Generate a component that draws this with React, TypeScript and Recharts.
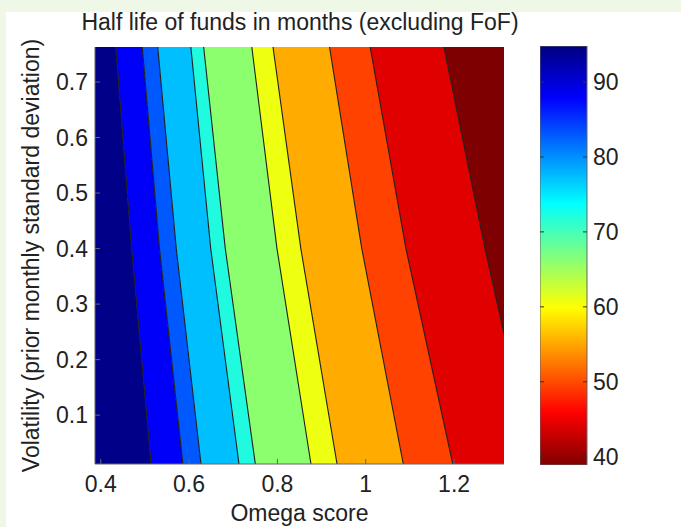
import React from 'react';
import { ComposedChart, Area, Line, XAxis, YAxis, BarChart, Bar } from 'recharts';

const volatility = [0.763, 0.4, 0.012];

// omega score of each contour line at those volatility levels (left to right)
const contour1 = [0.434, 0.47, 0.514];
const contour2 = [0.494, 0.533, 0.586];
const contour3 = [0.529, 0.571, 0.627];
const contour4 = [0.604, 0.649, 0.713];
const contour5 = [0.633, 0.682, 0.75];
const contour6 = [0.742, 0.799, 0.876];
const contour7 = [0.79, 0.853, 0.935];
const contour8 = [0.918, 0.991, 1.085];
const contour9 = [1.01, 1.091, 1.197];
const contour10 = [1.177, 1.27, 1.379];

const bandColors = [
  '#000088', '#0000f8', '#0058ff', '#00bfff', '#20fbdf', '#8cff6e',
  '#eeff12', '#ffab00', '#ff4200', '#e00000', '#7f0000',
];

const omegaDomain = [0.387, 1.313];
const volDomain = [0.012, 0.763];
const omegaTicks = [0.4, 0.6, 0.8, 1, 1.2];
const volTicks = [0.1, 0.2, 0.3, 0.4, 0.5, 0.6, 0.7];

const levelDomain = [38.9, 94.8];
const levelTicks = [40, 50, 60, 70, 80, 90];

const contours = [contour1, contour2, contour3, contour4, contour5, contour6, contour7, contour8, contour9, contour10];

const rows = volatility.map((vol, i) => {
  const edges = [omegaDomain[0], ...contours.map((c) => c[i]), omegaDomain[1]];
  const row: Record<string, any> = { vol };
  contours.forEach((c, k) => {
    row['c' + k] = c[i];
  });
  bandColors.forEach((_, k) => {
    row['band' + k] = [edges[k], edges[k + 1]];
  });
  return row;
});

const colorbarData = [{ name: 'half life', range: levelDomain }];

// jet colormap, bottom (low) to top (high)
const jetStops = [
  { offset: '0%', color: '#800000' },
  { offset: '12.5%', color: '#ff0000' },
  { offset: '37.5%', color: '#ffff00' },
  { offset: '62.5%', color: '#00ffff' },
  { offset: '87.5%', color: '#0000ff' },
  { offset: '100%', color: '#000080' },
];

const FONT = '"Liberation Sans", Arial, Helvetica, sans-serif';
const TEXT = '#222';
const FRAME = '#666';
const SIZE = 23;
const fmt = (v: number) => String(v);

const BottomTick = ({ x, y, payload }: any) => (
  <g>
    <line x1={x} x2={x} y1={y} y2={y - 5} stroke={FRAME} />
    <text x={x} y={y + 28} textAnchor="middle" fill={TEXT} fontSize={SIZE} fontFamily={FONT}>
      {fmt(payload.value)}
    </text>
  </g>
);

const TopTick = ({ x, y }: any) => <line x1={x} x2={x} y1={y} y2={y + 5} stroke={FRAME} />;

const LeftTick = ({ x, y, payload }: any) => (
  <g>
    <line x1={x} x2={x + 5} y1={y} y2={y} stroke={FRAME} />
    <text x={x - 7} y={y} dy="0.36em" textAnchor="end" fill={TEXT} fontSize={SIZE} fontFamily={FONT}>
      {fmt(payload.value)}
    </text>
  </g>
);

const RightTick = ({ x, y }: any) => <line x1={x} x2={x - 5} y1={y} y2={y} stroke={FRAME} />;

const ColorbarTick = ({ x, y, payload }: any) => (
  <g>
    <line x1={x} x2={x - 4} y1={y} y2={y} stroke="#333" />
    <line x1={x - 47} x2={x - 43} y1={y} y2={y} stroke="#333" />
    <text x={x + 6} y={y} dy="0.36em" textAnchor="start" fill={TEXT} fontSize={SIZE} fontFamily={FONT}>
      {payload.value}
    </text>
  </g>
);

export default function App() {
  return (
    <div style={{ position: 'absolute', left: 0, top: 0, width: 681, height: 527, background: '#eff8e6', overflow: 'hidden' }}>
      <div style={{ position: 'absolute', left: 6, top: 12, right: 0, bottom: 0, background: '#fff' }} />
      <div
        style={{
          position: 'absolute', left: 0, width: 600, top: 11, textAlign: 'center',
          fontFamily: FONT, fontSize: 23, lineHeight: '23px', color: TEXT,
        }}
      >
        Half life of funds in months (excluding FoF)
      </div>

      <div style={{ position: 'absolute', left: 0, top: 0 }}>
        <ComposedChart layout="vertical" width={520} height={527} data={rows}
          margin={{ top: 47, right: 16, bottom: 23, left: 0 }}>
          <XAxis type="number" domain={omegaDomain} ticks={omegaTicks} allowDataOverflow
            height={40} tickSize={0} tickMargin={0} tick={<BottomTick />}
            axisLine={{ stroke: FRAME }}
            label={{
              content: ({ viewBox }: any) => (
                <text x={viewBox.x + viewBox.width / 2} y={viewBox.y + 57} textAnchor="middle"
                  fill={TEXT} fontSize={SIZE} fontFamily={FONT}>Omega score</text>
              ),
            }} />
          <XAxis xAxisId="top" orientation="top" type="number" domain={omegaDomain} ticks={omegaTicks}
            allowDataOverflow height={0} tickSize={0} tickMargin={0} tick={<TopTick />}
            axisLine={{ stroke: FRAME }} />
          <YAxis type="number" dataKey="vol" domain={volDomain} ticks={volTicks} allowDataOverflow reversed
            width={95} tickSize={0} tickMargin={0} tick={<LeftTick />} axisLine={{ stroke: FRAME }}
            label={{
              content: ({ viewBox }: any) => {
                const cx = 31;
                const cy = viewBox.y + viewBox.height / 2;
                return (
                  <text x={cx} y={cy} dy="0.36em" textAnchor="middle" transform={`rotate(-90, ${cx}, ${cy})`}
                    fill={TEXT} fontSize={SIZE} fontFamily={FONT}>
                    Volatility (prior monthly standard deviation)
                  </text>
                );
              },
            }} />
          <YAxis yAxisId="right" orientation="right" type="number" dataKey="vol" domain={volDomain} reversed
            ticks={volTicks} allowDataOverflow width={0} tickSize={0} tickMargin={0} tick={<RightTick />}
            axisLine={{ stroke: FRAME }} />
          {bandColors.map((color, k) => (
            <Area key={'band' + k} type="linear" dataKey={'band' + k} fill={color} fillOpacity={1}
              stroke="none" isAnimationActive={false} />
          ))}
          {contours.map((_, k) => (
            <Line key={'c' + k} type="linear" dataKey={'c' + k} stroke="#1e1e1e" strokeWidth={1.1}
              dot={false} activeDot={false} isAnimationActive={false} />
          ))}
        </ComposedChart>
      </div>

      <div style={{ position: 'absolute', left: 540, top: 0 }}>
        <BarChart width={120} height={527} data={colorbarData} barCategoryGap={0}
          margin={{ top: 46, right: 13, bottom: 62, left: 0 }}>
          <defs>
            <linearGradient id="jet" x1="0" y1="1" x2="0" y2="0">
              {jetStops.map((s) => (
                <stop key={s.offset} offset={s.offset} stopColor={s.color} />
              ))}
            </linearGradient>
          </defs>
          <XAxis dataKey="name" hide />
          <YAxis orientation="right" type="number" domain={levelDomain} ticks={levelTicks}
            allowDataOverflow width={60} tickSize={0} tickMargin={0} tick={<ColorbarTick />}
            axisLine={false} />
          <Bar dataKey="range" fill="url(#jet)" stroke={FRAME} isAnimationActive={false} />
        </BarChart>
      </div>
    </div>
  );
}
